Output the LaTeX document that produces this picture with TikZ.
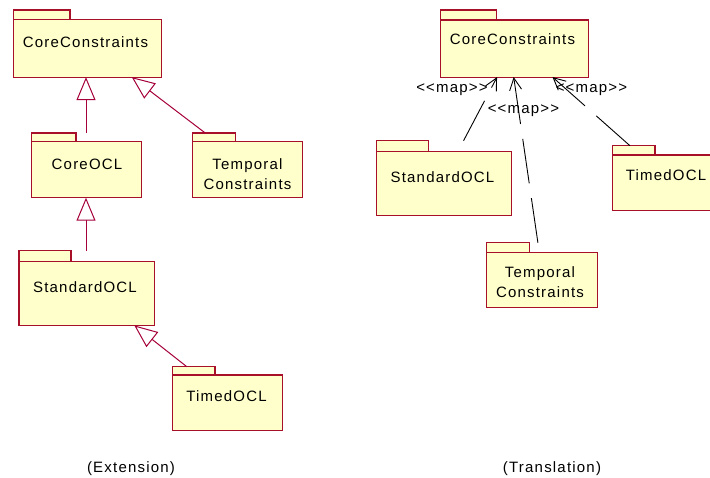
\documentclass[tikz,border=0pt]{standalone}
\usepackage{fontspec}
\setmainfont{Liberation Sans}[LetterSpace=8, Ligatures=TeXOff]
\usetikzlibrary{arrows.meta}
\definecolor{pkgfill}{RGB}{255,255,204}
\definecolor{pkgline}{RGB}{168,16,42}
\definecolor{genline}{RGB}{165,0,58}
\tikzset{
  envelope/.style={draw=none, inner sep=0pt, anchor=north west},
  pkgshape/.style={draw=pkgline, fill=pkgfill, line width=1.1pt},
  pkgtext/.style={font=\fontsize{15}{20}\selectfont, align=center, inner sep=0pt},
  maptext/.style={font=\fontsize{15}{20}\selectfont, inner sep=0pt},
  gen/.style={draw=genline, line width=1pt,
    -{Triangle[open, length=23pt, width=19pt, fill=white]}},
  dep/.style={draw=black, line width=0.9pt, dash pattern=on 45pt off 15pt,
    -{Straight Barb[length=12pt, width=12pt]}},
}
% package: name, top-left x, top-left y, body width, full height, tab width, tab height
\newcommand\umlpkg[7]{%
  \node[envelope, minimum width=#4pt, minimum height=#5pt] (#1) at (#2,#3) {};
  \draw[pkgshape] ([yshift=-#7pt]#1.north west) rectangle (#1.south east);
  \draw[pkgshape] (#1.north west) rectangle ++(#6pt,-#7pt);
}
\begin{document}
\begin{tikzpicture}[x=1pt, y=-1pt]
\useasboundingbox (0,0) rectangle (710,478);
\begin{scope}
\clip (0,0) rectangle (710,478);

% ---------- Extension ----------
\umlpkg{lcc}{13.5}{10}{148}{66.7}{56.5}{9.5}
\umlpkg{lcoc}{31.7}{133}{109.6}{64.3}{44.3}{8.7}
\umlpkg{ltc}{192.7}{133}{109.6}{64.3}{43}{8.7}
\umlpkg{lso}{19}{250.7}{135.3}{74.3}{52}{11}
\umlpkg{lto}{172.3}{366.7}{110}{63.6}{42.7}{8.3}

\node[pkgtext] (lcc-t) at (85.5,42) {CoreConstraints};
\node[pkgtext] (lcoc-t) at (87,164) {CoreOCL};
\node[pkgtext] (ltc-t) at (247.5,174) {Temporal\\Constraints};
\node[pkgtext] (lso-t) at (85,287.5) {StandardOCL};
\node[pkgtext] (lto-t) at (226.5,396) {TimedOCL};

\draw[gen] (lcoc.north -| 86,0) -- (lcc.south -| 86,0);
\draw[gen] (ltc) -- (lcc);
\draw[gen] (lso.north -| 86,0) -- (lcoc.south -| 86,0);
\draw[gen] (lto) -- (lso);

% ---------- Translation ----------
\umlpkg{rcc}{440.7}{10}{147.6}{66.7}{56}{10}
\umlpkg{rso}{376.7}{140.7}{134}{74.3}{51.6}{11}
\umlpkg{rto}{612.7}{145.7}{107}{64.3}{42.3}{9.3}
\umlpkg{rtc}{486.7}{242.7}{110}{64.6}{42.6}{9.6}

\node[pkgtext] (rcc-t) at (512.5,39.5) {CoreConstraints};
\node[pkgtext] (rso-t) at (442.5,177.5) {StandardOCL};
\node[pkgtext] (rto-t) at (666,175.5) {TimedOCL};
\node[pkgtext] (rtc-t) at (540,282) {Temporal\\Constraints};

\coordinate (rtc-top) at ([xshift=-4pt]rtc.north);
\coordinate (rcc-bot) at ([xshift=-1pt]rcc.south);
\draw[dep] (rso) -- (rcc);
\draw[dep] (rtc-top) -- (rcc-bot);
\draw[dep] (rto) -- (rcc);

\node[maptext] (map1) at (452,90) {<<map>>};
\node[maptext] (map2) at (523.5,110.5) {<<map>>};
\node[maptext] (map3) at (591.5,90) {<<map>>};

% ---------- captions ----------
\node[maptext] (ext) at (131,469) {(Extension)};
\node[maptext] (tra) at (552,469) {(Translation)};
\end{scope}
\end{tikzpicture}
\end{document}
